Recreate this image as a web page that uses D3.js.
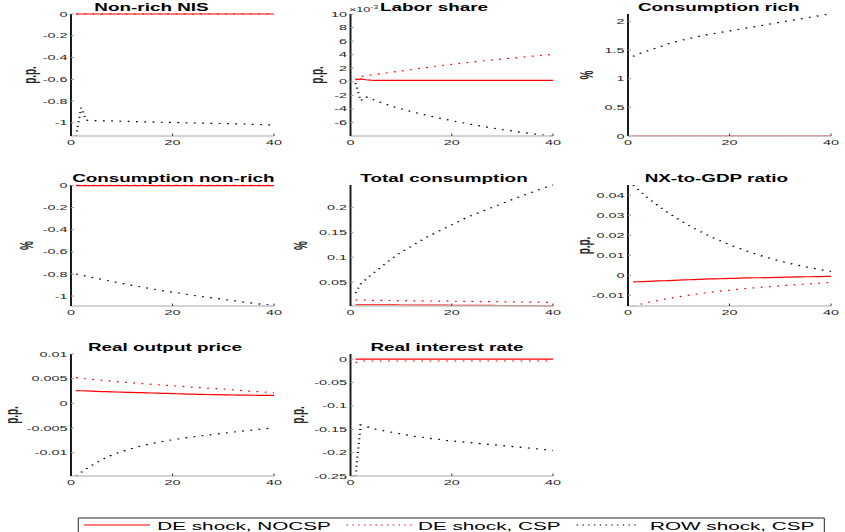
<!DOCTYPE html>
<html>
<head>
<meta charset="utf-8">
<script src="https://cdnjs.cloudflare.com/ajax/libs/d3/7.8.5/d3.min.js"></script>
<style>
  body { margin: 0; background: #fff; }
  svg { display: block; }
  text { font-family: "Liberation Sans", Arial, Helvetica, sans-serif; }
</style>
</head>
<body>
<div id="chart"></div>
<script>
// Impulse responses, horizons 1..40
const horizon = [1,2,3,4,5,6,7,8,9,10,11,12,13,14,15,16,17,18,19,20,21,22,23,24,25,26,27,28,29,30,31,32,33,34,35,36,37,38,39,40];

const seriesNames = ['DE shock, NOCSP', 'DE shock, CSP', 'ROW shock, CSP'];
const xTicks = [0, 20, 40];

// Non-rich NIS (p.p.)
const nisNocsp = [0,0,0,0,0,0,0,0,0,0,0,0,0,0,0,0,0,0,0,0,0,0,0,0,0,0,0,0,0,0,0,0,0,0,0,0,0,0,0,0];
const nisCsp = [0,0,0,0,0,0,0,0,0,0,0,0,0,0,0,0,0,0,0,0,0,0,0,0,0,0,0,0,0,0,0,0,0,0,0,0,0,0,0,0];
const nisRow = [-1.12,-0.86,-0.975,-0.978,-0.979,-0.980,-0.981,-0.982,-0.983,-0.985,-0.986,-0.987,-0.988,-0.989,-0.990,-0.991,-0.993,-0.994,-0.995,-0.996,-0.997,-0.998,-0.999,-1.000,-1.001,-1.002,-1.003,-1.004,-1.005,-1.006,-1.007,-1.008,-1.009,-1.010,-1.012,-1.013,-1.014,-1.016,-1.018,-1.020];
const nisTicks = [-1, -0.8, -0.6, -0.4, -0.2, 0];

// Labor share (p.p., in units of 1e-3)
const laborNocsp = [0.30,0.42,0.30,0.24,0.22,0.21,0.20,0.20,0.20,0.20,0.20,0.20,0.20,0.20,0.20,0.20,0.20,0.20,0.20,0.20,0.20,0.20,0.20,0.20,0.20,0.20,0.20,0.20,0.20,0.20,0.21,0.21,0.21,0.21,0.21,0.21,0.21,0.21,0.21,0.21];
const laborCsp = [0.35,0.75,0.88,1.00,1.10,1.20,1.30,1.40,1.50,1.60,1.70,1.80,1.90,2.00,2.10,2.20,2.30,2.40,2.48,2.57,2.66,2.74,2.82,2.90,2.98,3.06,3.14,3.22,3.29,3.36,3.43,3.50,3.57,3.64,3.71,3.78,3.85,3.92,3.98,4.05];
const laborRow = [-0.20,-2.80,-2.20,-2.50,-2.80,-3.05,-3.30,-3.55,-3.80,-4.00,-4.20,-4.40,-4.58,-4.76,-4.94,-5.10,-5.26,-5.42,-5.58,-5.73,-5.88,-6.02,-6.16,-6.30,-6.43,-6.56,-6.69,-6.81,-6.93,-7.05,-7.16,-7.27,-7.38,-7.48,-7.58,-7.68,-7.77,-7.85,-7.93,-8.00];
const laborTicks = [-6, -4, -2, 0, 2, 4, 6, 8, 10];

// Consumption rich (%)
const richNocsp = [0.004,0.004,0.004,0.004,0.004,0.004,0.004,0.004,0.004,0.004,0.004,0.004,0.004,0.004,0.004,0.004,0.004,0.004,0.004,0.004,0.004,0.004,0.004,0.004,0.004,0.004,0.004,0.004,0.004,0.004,0.004,0.004,0.004,0.004,0.004,0.004,0.004,0.004,0.004,0.004];
const richCsp = [0.006,0.006,0.006,0.006,0.006,0.006,0.006,0.006,0.006,0.006,0.006,0.006,0.006,0.006,0.006,0.006,0.006,0.006,0.006,0.006,0.006,0.006,0.006,0.006,0.006,0.006,0.006,0.006,0.006,0.006,0.006,0.006,0.006,0.006,0.006,0.006,0.006,0.006,0.006,0.006];
const richRow = [1.39,1.43,1.46,1.49,1.52,1.55,1.58,1.61,1.635,1.66,1.68,1.70,1.72,1.74,1.76,1.775,1.79,1.805,1.82,1.835,1.85,1.865,1.88,1.895,1.91,1.925,1.94,1.955,1.97,1.985,2.00,2.015,2.03,2.045,2.06,2.075,2.09,2.105,2.12,2.13];
const richTicks = [0, 0.5, 1, 1.5, 2];

// Consumption non-rich (%)
const nonrichNocsp = [0,0,0,0,0,0,0,0,0,0,0,0,0,0,0,0,0,0,0,0,0,0,0,0,0,0,0,0,0,0,0,0,0,0,0,0,0,0,0,0];
const nonrichCsp = [0.002,0.002,0.002,0.002,0.002,0.002,0.002,0.002,0.002,0.002,0.002,0.002,0.002,0.002,0.002,0.002,0.002,0.002,0.002,0.002,0.002,0.002,0.002,0.002,0.002,0.002,0.002,0.002,0.002,0.002,0.002,0.002,0.002,0.002,0.002,0.002,0.002,0.002,0.002,0.002];
const nonrichRow = [-0.800,-0.810,-0.820,-0.830,-0.840,-0.849,-0.858,-0.867,-0.876,-0.885,-0.894,-0.903,-0.911,-0.919,-0.927,-0.935,-0.943,-0.951,-0.958,-0.965,-0.972,-0.979,-0.986,-0.993,-1.000,-1.006,-1.012,-1.018,-1.024,-1.030,-1.036,-1.042,-1.048,-1.054,-1.060,-1.066,-1.071,-1.076,-1.081,-1.086];
const nonrichTicks = [-1, -0.8, -0.6, -0.4, -0.2, 0];

// Total consumption (%)
const totalNocsp = [0.0045,0.0044,0.0044,0.0043,0.0043,0.0042,0.0042,0.0041,0.0041,0.0040,0.0040,0.0039,0.0039,0.0038,0.0038,0.0037,0.0037,0.0036,0.0036,0.0035,0.0035,0.0034,0.0034,0.0033,0.0033,0.0032,0.0032,0.0031,0.0030,0.0030,0.0029,0.0029,0.0028,0.0027,0.0027,0.0026,0.0025,0.0024,0.0023,0.0022];
const totalCsp = [0.0140,0.0138,0.0137,0.0135,0.0134,0.0133,0.0131,0.0130,0.0129,0.0128,0.0126,0.0125,0.0124,0.0123,0.0122,0.0120,0.0119,0.0118,0.0117,0.0116,0.0115,0.0113,0.0112,0.0111,0.0110,0.0109,0.0108,0.0107,0.0106,0.0105,0.0104,0.0102,0.0101,0.0100,0.0099,0.0098,0.0096,0.0094,0.0092,0.0090];
const totalRow = [0.028,0.046,0.055,0.064,0.072,0.080,0.088,0.096,0.103,0.110,0.116,0.122,0.128,0.134,0.140,0.145,0.150,0.155,0.160,0.165,0.170,0.175,0.180,0.184,0.188,0.192,0.196,0.200,0.204,0.208,0.212,0.216,0.220,0.224,0.227,0.231,0.235,0.238,0.242,0.245];
const totalTicks = [0.05, 0.1, 0.15, 0.2];

// NX-to-GDP ratio (p.p.)
const nxNocsp = [-0.0033,-0.0032,-0.0031,-0.0030,-0.0029,-0.0028,-0.0027,-0.0026,-0.0025,-0.0024,-0.0023,-0.0022,-0.0021,-0.0020,-0.0019,-0.0018,-0.0018,-0.0017,-0.0016,-0.0015,-0.0015,-0.0014,-0.0013,-0.0013,-0.0012,-0.0012,-0.0011,-0.0011,-0.0010,-0.0010,-0.0009,-0.0009,-0.0008,-0.0008,-0.0007,-0.0007,-0.0006,-0.0006,-0.0005,-0.0005];
const nxCsp = [-0.0153,-0.0147,-0.0141,-0.0135,-0.0130,-0.0125,-0.0120,-0.0115,-0.0111,-0.0107,-0.0103,-0.0099,-0.0095,-0.0092,-0.0088,-0.0085,-0.0082,-0.0079,-0.0076,-0.0074,-0.0071,-0.0069,-0.0066,-0.0064,-0.0062,-0.0060,-0.0058,-0.0056,-0.0054,-0.0052,-0.0050,-0.0049,-0.0047,-0.0045,-0.0044,-0.0042,-0.0041,-0.0039,-0.0037,-0.0036];
const nxRow = [0.0450,0.0428,0.0406,0.0385,0.0366,0.0347,0.0329,0.0311,0.0295,0.0279,0.0264,0.0249,0.0235,0.0222,0.0209,0.0197,0.0185,0.0174,0.0163,0.0153,0.0143,0.0134,0.0125,0.0116,0.0108,0.0100,0.0092,0.0085,0.0078,0.0072,0.0065,0.0059,0.0053,0.0048,0.0043,0.0037,0.0033,0.0028,0.0023,0.0019];
const nxTicks = [-0.01, 0, 0.01, 0.02, 0.03, 0.04];

// Real output price (p.p.)
const priceNocsp = [0.00260,0.00256,0.00252,0.00248,0.00244,0.00240,0.00237,0.00234,0.00231,0.00228,0.00225,0.00222,0.00219,0.00216,0.00213,0.00210,0.00207,0.00204,0.00201,0.00198,0.00195,0.00192,0.00189,0.00186,0.00184,0.00182,0.00180,0.00178,0.00176,0.00174,0.00172,0.00170,0.00168,0.00167,0.00166,0.00165,0.00164,0.00163,0.00162,0.00161];
const priceCsp = [0.00520,0.00509,0.00498,0.00488,0.00478,0.00468,0.00459,0.00450,0.00441,0.00432,0.00424,0.00416,0.00408,0.00400,0.00392,0.00385,0.00378,0.00371,0.00364,0.00357,0.00350,0.00343,0.00336,0.00329,0.00322,0.00315,0.00308,0.00302,0.00296,0.00290,0.00282,0.00274,0.00266,0.00258,0.00250,0.00243,0.00236,0.00229,0.00222,0.00215];
const priceRow = [-0.01470,-0.01395,-0.01325,-0.01260,-0.01200,-0.01145,-0.01095,-0.01050,-0.01010,-0.00975,-0.00942,-0.00912,-0.00884,-0.00858,-0.00834,-0.00812,-0.00791,-0.00772,-0.00754,-0.00737,-0.00721,-0.00706,-0.00692,-0.00678,-0.00665,-0.00652,-0.00640,-0.00628,-0.00617,-0.00606,-0.00592,-0.00580,-0.00569,-0.00558,-0.00547,-0.00536,-0.00526,-0.00516,-0.00506,-0.00496];
const priceTicks = [-0.01, -0.005, 0, 0.005, 0.01];

// Real interest rate (p.p.)
const rateNocsp = [0,0,0,0,0,0,0,0,0,0,0,0,0,0,0,0,0,0,0,0,0,0,0,0,0,0,0,0,0,0,0,0,0,0,0,0,0,0,0,0];
const rateCsp = [-0.007,-0.004,-0.004,-0.004,-0.004,-0.004,-0.004,-0.004,-0.004,-0.004,-0.004,-0.004,-0.004,-0.004,-0.004,-0.004,-0.004,-0.004,-0.004,-0.004,-0.004,-0.004,-0.004,-0.004,-0.004,-0.004,-0.004,-0.004,-0.004,-0.004,-0.004,-0.004,-0.004,-0.004,-0.004,-0.004,-0.004,-0.004,-0.004,-0.004];
const rateRow = [-0.250,-0.141,-0.144,-0.147,-0.150,-0.152,-0.154,-0.156,-0.158,-0.160,-0.162,-0.164,-0.166,-0.167,-0.168,-0.170,-0.171,-0.172,-0.174,-0.175,-0.176,-0.177,-0.178,-0.179,-0.180,-0.181,-0.182,-0.183,-0.184,-0.185,-0.186,-0.187,-0.188,-0.189,-0.190,-0.191,-0.192,-0.193,-0.194,-0.195];
const rateTicks = [-0.25, -0.2, -0.15, -0.1, -0.05, 0];

// --- layout ---------------------------------------------------------------
// The reference is a MATLAB figure stretched horizontally, so everything is
// drawn in a narrow inner frame and scaled by SX on x.
const W = 845, H = 532;
const SX = 1.8;
const colLeft = [71, 350.5, 628], colRight = [274, 553, 831];   // screen px
const rowTop = [14, 185, 354], rowBottom = [136, 306, 476];

const panels = [
  { title: 'Non-rich NIS', unit: 'p.p.', col: 0, row: 0, domain: [-1.12, 0], ticks: nisTicks, data: [nisNocsp, nisCsp, nisRow], titleX: 151.5, labelX: 30 },
  { title: 'Labor share', unit: 'p.p.', col: 1, row: 0, domain: [-8, 10], ticks: laborTicks, data: [laborNocsp, laborCsp, laborRow], titleX: 434, labelX: 317, exponent: true },
  { title: 'Consumption rich', unit: '%', col: 2, row: 0, domain: [0, 2.13], ticks: richTicks, data: [richNocsp, richCsp, richRow], titleX: 718.7, labelX: 587 },
  { title: 'Consumption non-rich', unit: '%', col: 0, row: 1, domain: [-1.09, 0.005], ticks: nonrichTicks, data: [nonrichNocsp, nonrichCsp, nonrichRow], titleX: 173.3, labelX: 27 },
  { title: 'Total consumption', unit: '%', col: 1, row: 1, domain: [0.002, 0.245], ticks: totalTicks, data: [totalNocsp, totalCsp, totalRow], titleX: 444, labelX: 301 },
  { title: 'NX-to-GDP ratio', unit: 'p.p.', col: 2, row: 1, domain: [-0.0153, 0.0451], ticks: nxTicks, data: [nxNocsp, nxCsp, nxRow], titleX: 716.3, labelX: 584 },
  { title: 'Real output price', unit: 'p.p.', col: 0, row: 2, domain: [-0.0147, 0.01], ticks: priceTicks, data: [priceNocsp, priceCsp, priceRow], titleX: 165, labelX: 12 },
  { title: 'Real interest rate', unit: 'p.p.', col: 1, row: 2, domain: [-0.25, 0.011], ticks: rateTicks, data: [rateNocsp, rateCsp, rateRow], titleX: 447, labelX: 298 }
];

const styles = [
  { color: '#ff0000', dash: null, width: 1.2 },
  { color: '#ff0000', dash: '1 3.6', width: 1.2 },
  { color: '#000000', dash: '1 3.6', width: 1.2 }
];

const fmt = d3.formatLocale({ decimal: '.', thousands: ',', grouping: [3], currency: ['', ''], minus: '-' }).format('~g');

const svg = d3.select('#chart').append('svg')
  .attr('width', W)
  .attr('height', H);

svg.append('rect').attr('width', W).attr('height', H).attr('fill', '#fff');

const root = svg.append('g').attr('transform', `scale(${SX},1)`);

panels.forEach(p => {
  const x0 = colLeft[p.col] / SX, x1 = colRight[p.col] / SX;
  const top = rowTop[p.row], bottom = rowBottom[p.row];

  const x = d3.scaleLinear().domain([0, 40]).range([x0, x1]);
  const y = d3.scaleLinear().domain(p.domain).range([bottom, top]);

  const g = root.append('g');

  // lines
  const line = d3.line()
    .x((d, i) => x(horizon[i]))
    .y(d => y(d));

  p.data.forEach((values, k) => {
    const s = styles[k];
    g.append('path')
      .datum(values)
      .attr('d', line)
      .attr('fill', 'none')
      .attr('stroke', s.color)
      .attr('stroke-width', s.width)
      .attr('stroke-dasharray', s.dash);
  });

  // x axis
  const xAxis = g.append('g')
    .attr('transform', `translate(0,${bottom})`)
    .call(d3.axisBottom(x).tickValues(xTicks).tickSizeInner(-2.5).tickSizeOuter(0).tickPadding(3).offset(0));
  xAxis.attr('font-size', 8).attr('font-family', null);
  xAxis.select('.domain').attr('stroke', '#c4c4c4').attr('stroke-width', 1.5);
  xAxis.selectAll('.tick line').attr('stroke', '#444').attr('stroke-width', 0.6);
  xAxis.selectAll('.tick text').attr('fill', '#262626');

  // y axis
  const yAxis = g.append('g')
    .attr('transform', `translate(${x0},0)`)
    .call(d3.axisLeft(y).tickValues(p.ticks).tickFormat(fmt).tickSizeInner(-1.7).tickSizeOuter(0).tickPadding(1.9).offset(0));
  yAxis.attr('font-size', 8).attr('font-family', null);
  yAxis.select('.domain').attr('stroke', '#1a1a1a').attr('stroke-width', 1.1);
  yAxis.selectAll('.tick line').attr('stroke', '#999').attr('stroke-width', 1);
  yAxis.selectAll('.tick text').attr('fill', '#262626');

  if (p.exponent) {
    const ex = g.append('text')
      .attr('x', 349 / SX)
      .attr('y', 12)
      .attr('font-size', 7)
      .attr('fill', '#262626');
    ex.append('tspan').text('\u00d710');
    ex.append('tspan').attr('font-size', 5).attr('dy', -3).text('-3');
  }

  // title
  g.append('text')
    .attr('x', p.titleX / SX)
    .attr('y', top - 2.5)
    .attr('text-anchor', 'middle')
    .attr('font-size', 10.5)
    .attr('font-weight', 'bold')
    .attr('fill', '#000')
    .text(p.title);

  // y label
  g.append('text')
    .attr('transform', `translate(${p.labelX / SX},${(top + bottom) / 2}) rotate(-90)`)
    .attr('dy', '0.35em')
    .attr('text-anchor', 'middle')
    .attr('font-size', 10)
    .attr('font-weight', 'bold')
    .attr('fill', '#262626')
    .text(p.unit);
});

// legend
const legendSamples = [[84, 150], [346.7, 411.7], [576.7, 640]];
const legendTextX = [157.3, 418, 650];
const lg = root.append('g');
lg.append('rect')
  .attr('x', 78.3 / SX)
  .attr('y', 518)
  .attr('width', (824.3 - 78.3) / SX)
  .attr('height', 24)
  .attr('fill', '#fff')
  .attr('stroke', '#262626')
  .attr('stroke-width', 1)
  .attr('vector-effect', 'non-scaling-stroke');

seriesNames.forEach((name, k) => {
  const s = styles[k];
  lg.append('line')
    .attr('x1', legendSamples[k][0] / SX)
    .attr('x2', legendSamples[k][1] / SX)
    .attr('y1', 525)
    .attr('y2', 525)
    .attr('stroke', s.color)
    .attr('stroke-width', s.dash ? 1.2 : 1.1)
    .attr('stroke-dasharray', s.dash ? '0.8 2.4' : null);
  lg.append('text')
    .attr('x', legendTextX[k] / SX)
    .attr('y', 530)
    .attr('font-size', 11.5)
    .attr('fill', '#000')
    .text(name);
});
</script>
</body>
</html>
